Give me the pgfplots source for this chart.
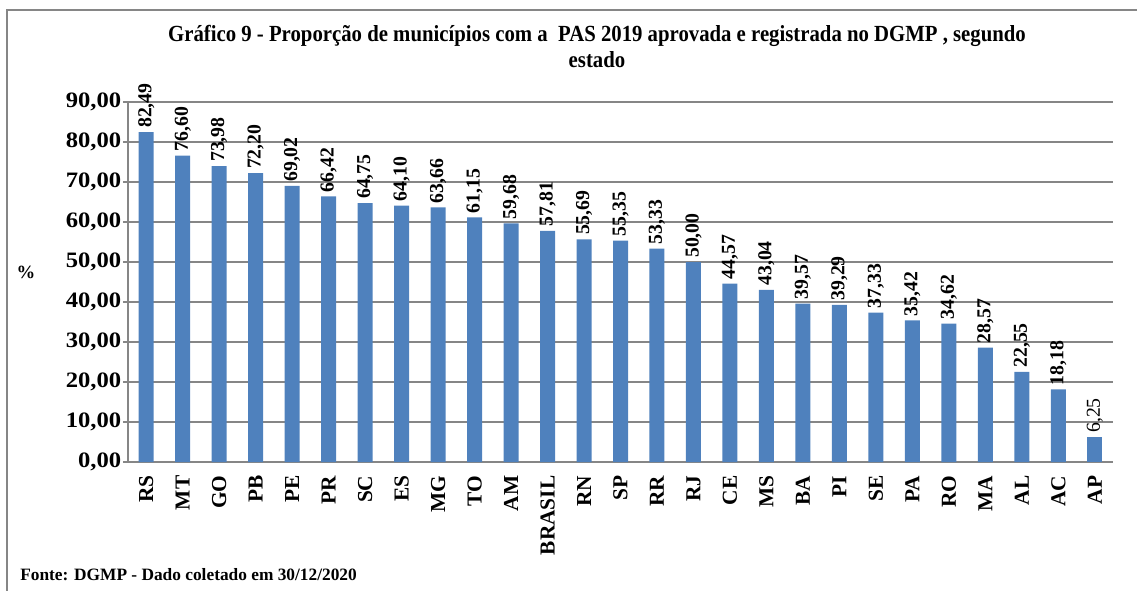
\documentclass[border=0pt]{standalone}
\usepackage{pgfplots}
\pgfplotsset{compat=1.18}
\usepackage{fontspec}
\setmainfont{Liberation Serif}
\newfontfamily\titlefont[FakeStretch=0.9]{Liberation Serif}
\newfontfamily\tickfont[FakeStretch=1.12]{Liberation Serif}
\definecolor{barblue}{HTML}{4F81BD}
\definecolor{gridgray}{HTML}{868686}
\def\u{0.75pt}
\begin{document}
\begin{tikzpicture}
\useasboundingbox (0,0) rectangle ({1137*\u},{-590*\u});
\draw[gridgray, line width=1.1pt] ({7*\u},{-600*\u}) -- ({7*\u},{-10*\u}) -- ({1145*\u},{-10*\u});
\node[font=\titlefont\bfseries\fontsize{17.3}{19.5}\selectfont, align=center, anchor=north] at ({597*\u},{-21*\u})
  {Gráfico 9 - Proporção de municípios com a \ PAS 2019 aprovada e registrada no DGMP , segundo\\estado};
\node[font=\bfseries\fontsize{14}{16}\selectfont] at ({26*\u},{-272*\u}) {\%};
\node[font=\bfseries\fontsize{13}{15}\selectfont, anchor=base west, inner sep=0pt] at ({20*\u},{-580*\u})
  {Fonte: DGMP - Dado coletado em 30/12/2020};
\begin{axis}[at={({128*\u},{-462*\u})}, anchor=south west, scale only axis,
  width={985*\u}, height={360*\u},
  xmin=-0.5, xmax=26.5, ymin=0, ymax=90, ytick={0,10,...,90},
  axis x line*=bottom, axis y line*=left,
  axis line style={gridgray, line width=1.1pt},
  ymajorgrids, grid style={gridgray, line width=1.1pt},
  tick align=outside, major tick length=3.75pt, minor tick length=4.5pt,
  tick style={gridgray, line width=1.1pt},
  xtick={0,...,26}, xtick style={draw=none},
  minor xtick={-0.5,0.5,...,26.5},
  xticklabels={RS,MT,GO,PB,PE,PR,SC,ES,MG,TO,AM,BRASIL,RN,SP,RR,RJ,CE,MS,BA,PI,SE,PA,RO,MA,AL,AC,AP},
  xticklabel shift=3pt,
  xticklabel style={rotate=90, anchor=east, font=\bfseries\fontsize{16}{18}\selectfont},
  yticklabel style={font=\tickfont\bfseries\fontsize{16.5}{18}\selectfont, xshift=2.25pt},
  /pgf/number format/.cd, fixed, fixed zerofill, precision=2, use comma, assume math mode=true, /pgfplots/.cd,
  ybar, bar width=11.25pt,
  nodes near coords,
  every node near coord/.append style={rotate=90, anchor=west, font=\bfseries\fontsize{14.8}{16}\selectfont, inner sep=3pt, black},
]
\addplot[fill=barblue, draw=none, bar shift=0pt] coordinates {
(0,82.49) (1,76.60) (2,73.98) (3,72.20) (4,69.02) (5,66.42) (6,64.75) (7,64.10) (8,63.66) (9,61.15)
(10,59.68) (11,57.81) (12,55.69) (13,55.35) (14,53.33) (15,50.00) (16,44.57) (17,43.04) (18,39.57)
(19,39.29) (20,37.33) (21,35.42) (22,34.62) (23,28.57) (24,22.55) (25,18.18)};
\addplot[fill=barblue, draw=none, bar shift=0pt,
  every node near coord/.append style={font=\mdseries\fontsize{14.8}{16}\selectfont}] coordinates {(26,6.25)};
\end{axis}
\end{tikzpicture}
\end{document}
